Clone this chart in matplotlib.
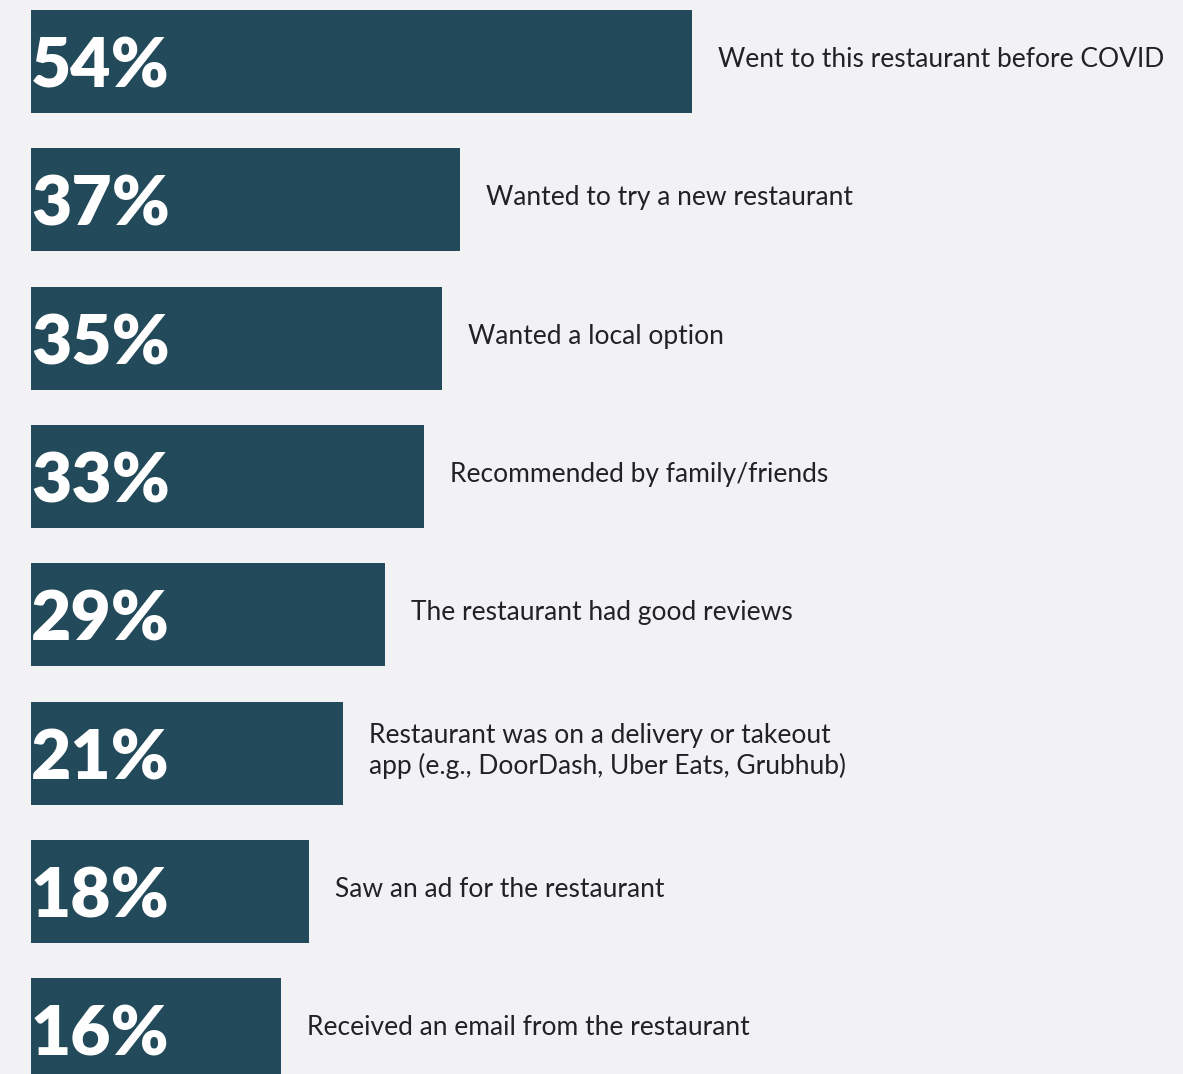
import matplotlib
matplotlib.use("Agg")
import matplotlib.pyplot as plt

# Data
categories = [
    "Went to this restaurant before COVID",
    "Wanted to try a new restaurant",
    "Wanted a local option",
    "Recommended by family/friends",
    "The restaurant had good reviews",
    "Restaurant was on a delivery or takeout\napp (e.g., DoorDash, Uber Eats, Grubhub)",
    "Saw an ad for the restaurant",
    "Received an email from the restaurant",
]
pct_labels = ["54%", "37%", "35%", "33%", "29%", "21%", "18%", "16%"]
# displayed bar lengths (as drawn in the graphic, in percent units)
bar_lengths = [54.0, 35.05, 33.6, 32.1, 28.9, 25.5, 22.7, 20.4]

BG = "#f2f2f4"
BAR = "#234a5a"
TXT = "#222226"

W, H = 1183, 1074
fig = plt.figure(figsize=(W / 100, H / 100), dpi=100, facecolor=BG)
ax = fig.add_axes([0, 0, 1, 1], facecolor=BG)

px_per_unit_x = 12.24
x0_px = 31
pitch = 138.3
first_center = 61.5

ys = list(range(len(categories)))
ax.barh(ys, bar_lengths, height=103 / pitch, color=BAR, left=0)

ax.set_xlim(-x0_px / px_per_unit_x, (W - x0_px) / px_per_unit_x)
ax.set_ylim((H - first_center) / pitch, -first_center / pitch)
ax.axis("off")

for y, L, p, c in zip(ys, bar_lengths, pct_labels, categories):
    ax.annotate(p, xy=(0, y), xytext=(0, -26), textcoords="offset pixels",
                ha="left", va="baseline", color="white",
                fontsize=50, fontweight="heavy", family=["Lato", "DejaVu Sans"])
    ax.annotate(c, xy=(L, y), xytext=(26, 2), textcoords="offset pixels",
                ha="left", va="center", color=TXT, fontsize=19,
                family=["Lato", "DejaVu Sans"], linespacing=1.25)

fig.savefig("out.png", dpi=100, facecolor=BG)
